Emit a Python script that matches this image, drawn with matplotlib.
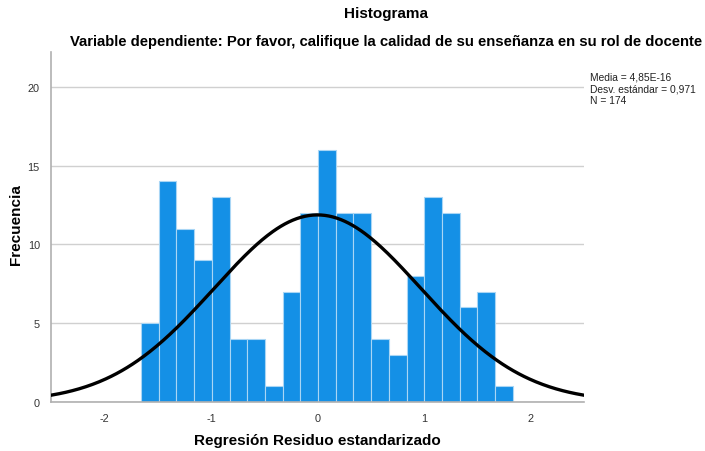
import numpy as np
import matplotlib
matplotlib.use("Agg")
import matplotlib.pyplot as plt

# Data
counts = [5, 14, 11, 9, 13, 4, 4, 1, 7, 12, 16, 12, 12, 4, 3, 8, 13, 12, 6, 7, 1]
bin_start = -1.655
bin_width = 0.166
mean = 4.85e-16
sd = 0.971
n = 174
xticks = [-2, -1, 0, 1, 2]
yticks = [0, 5, 10, 15, 20]

plt.rcParams['font.family'] = ['Liberation Sans', 'DejaVu Sans']

fig = plt.figure(figsize=(7.05, 4.52), dpi=100)
ax = fig.add_axes([51/705, 49/452, 533/705, 350/452])

edges = bin_start + bin_width * np.arange(len(counts) + 1)
ax.hist(edges[:-1], bins=edges, weights=counts, color='#1490E6',
        edgecolor='#A9D6F5', linewidth=0.8, zorder=2)

x = np.linspace(-2.5, 2.5, 400)
y = n * bin_width * np.exp(-0.5 * ((x - mean) / sd) ** 2) / (sd * np.sqrt(2 * np.pi))
ax.plot(x, y, color='black', linewidth=2.4, zorder=3)

ax.set_xlim(-2.5, 2.5)
ax.set_ylim(0, 22.2)
ax.set_xticks(xticks)
ax.set_yticks(yticks)
ax.set_xticklabels([str(t) for t in xticks])
ax.yaxis.grid(True, color='#D0D0D0', linewidth=1.0, zorder=0)
ax.set_axisbelow(True)
ax.tick_params(length=0, labelsize=7.8, colors='#333333', pad=8)
for s in ['top', 'right']:
    ax.spines[s].set_visible(False)
ax.spines['left'].set_color('#B0B0B0')
ax.spines['bottom'].set_color('#B0B0B0')
ax.spines['left'].set_linewidth(1.2)
ax.spines['bottom'].set_linewidth(1.2)

fig.text(317/705, 1 - 441/452, 'Regresión Residuo estandarizado', ha='center', va='center',
         fontsize=11, fontweight='bold')
fig.text(16/705, 1 - 225/452, 'Frecuencia', ha='center', va='center', rotation=90,
         fontsize=11, fontweight='bold')

fig.text(386/705, 1 - 14/452, 'Histograma', ha='center', va='center', fontsize=11, fontweight='bold')
fig.text(386/705, 1 - 42/452, 'Variable dependiente: Por favor, califique la calidad de su enseñanza en su rol de docente',
         ha='center', va='center', fontsize=10.7, fontweight='bold')

fig.text(590/705, 1 - 73/452, 'Media = 4,85E-16\nDesv. estándar = 0,971\nN = 174',
         ha='left', va='top', fontsize=7.4, linespacing=1.2, color='#222222')

fig.savefig('out.png', dpi=100)
